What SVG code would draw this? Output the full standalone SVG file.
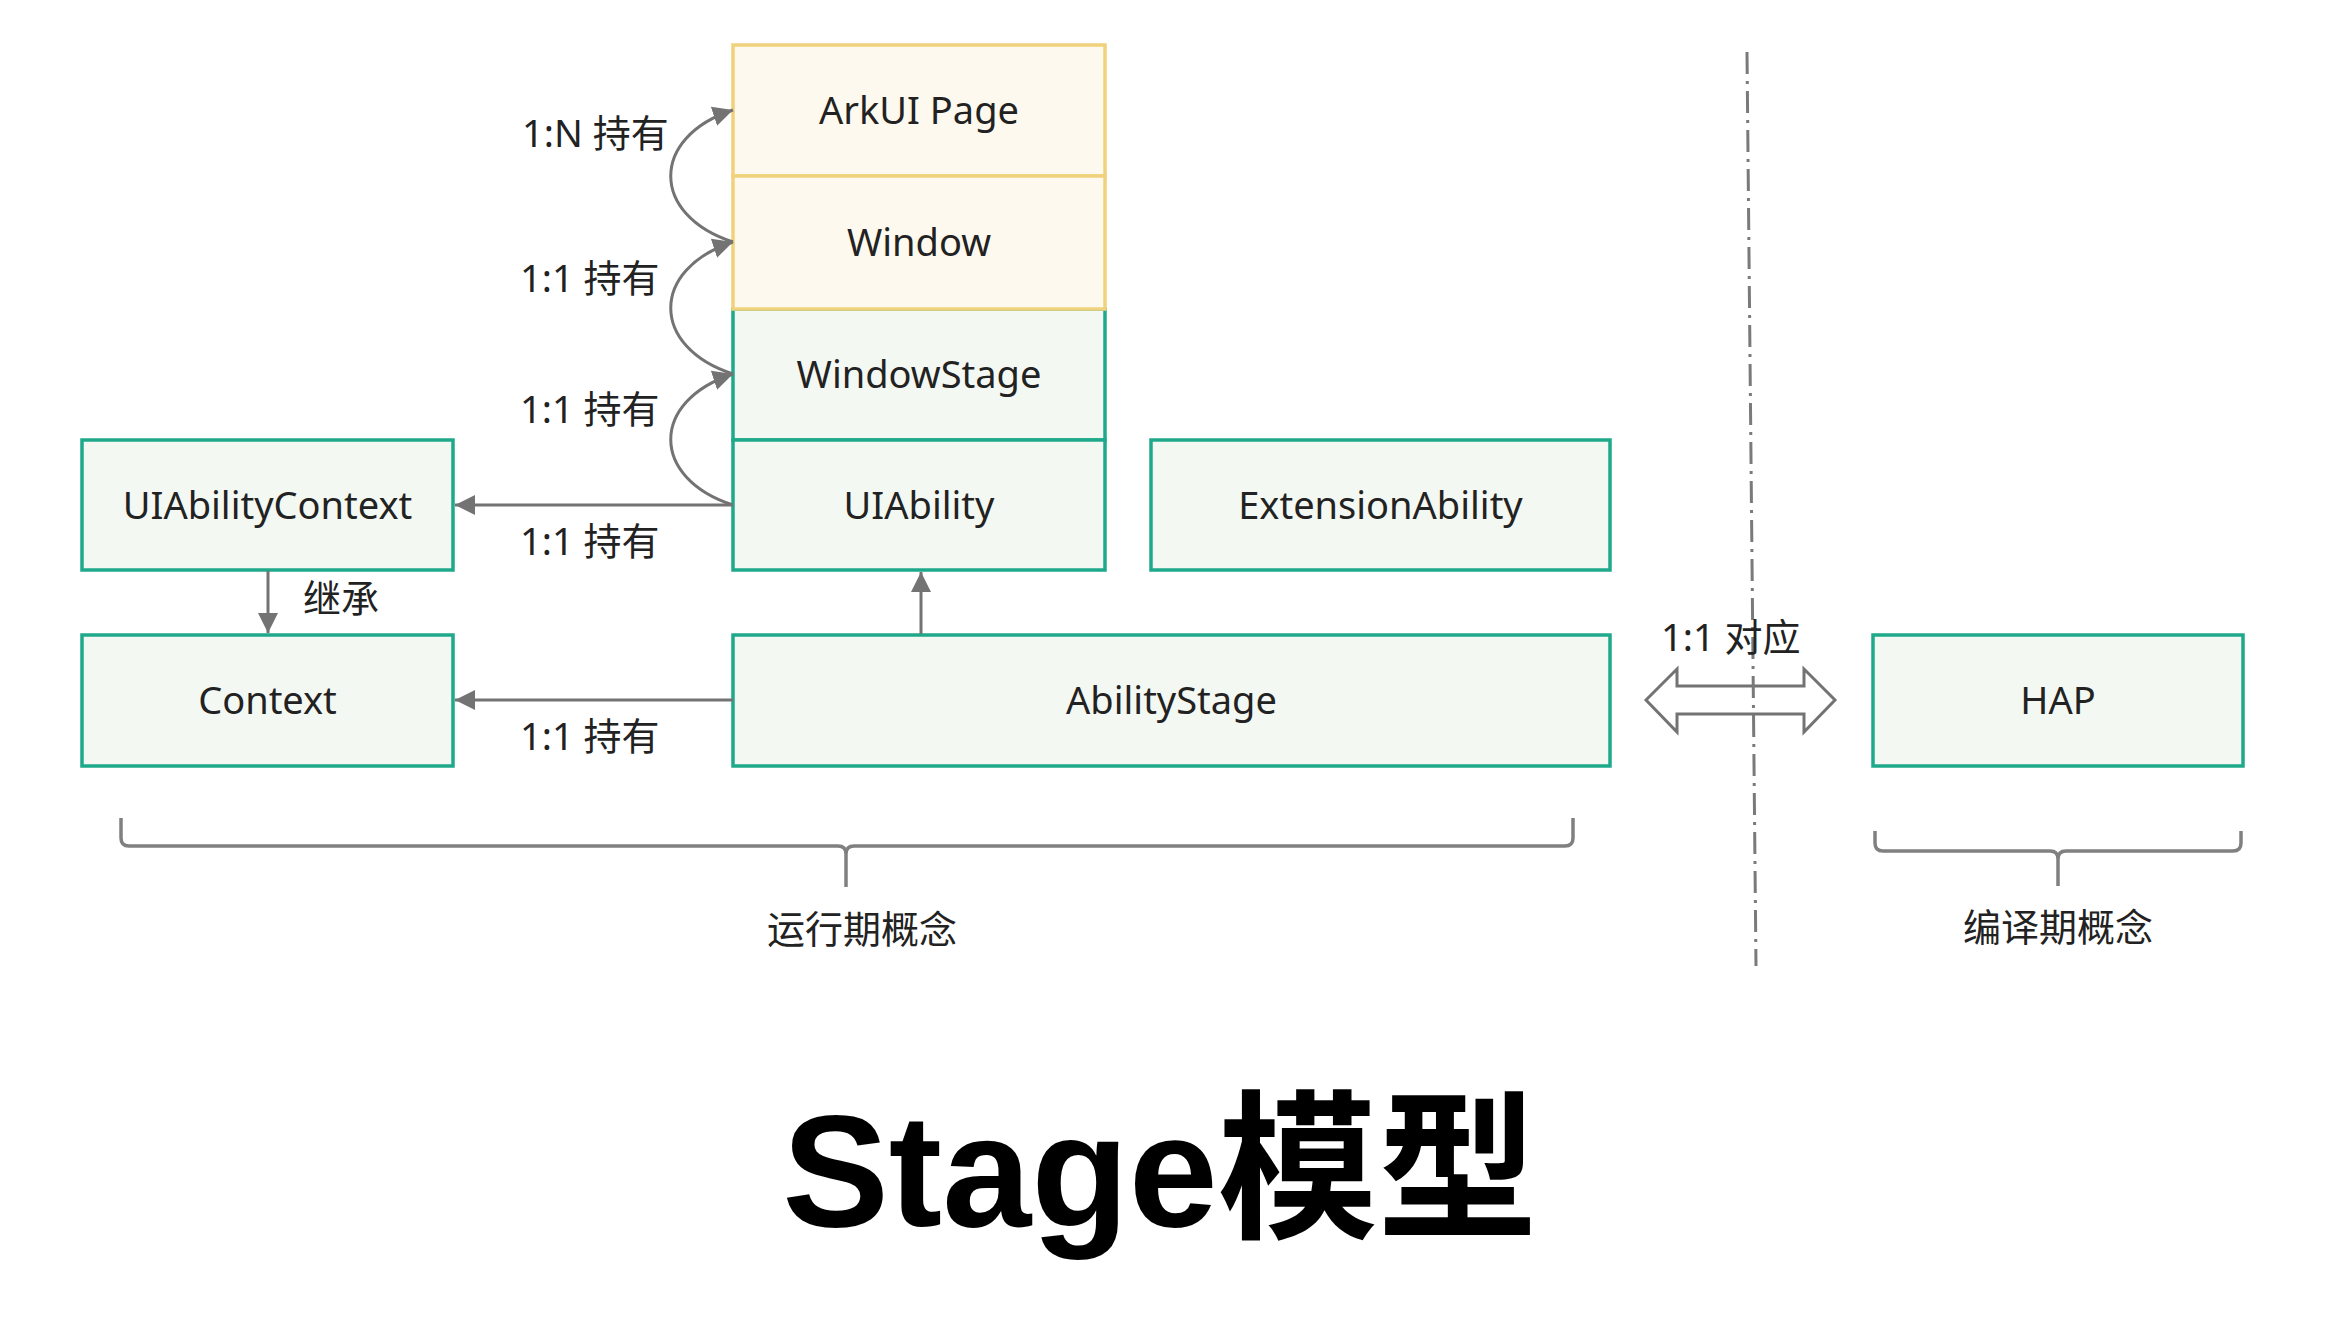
<svg xmlns="http://www.w3.org/2000/svg" width="2338" height="1324" viewBox="0 0 2338 1324">
<style>
.bg{fill:#ffffff}
.g rect{fill:#F4F8F2;stroke:#1FA98B;stroke-width:3.5}
.y rect{fill:#FEF9EE;stroke:#F1D27C;stroke-width:3.5}
.t{font-family:"Noto Sans","Noto Sans CJK SC",sans-serif;font-size:38px;fill:#222;text-anchor:middle}
.l{font-family:"Noto Sans","Noto Sans CJK SC",sans-serif;font-size:38px;fill:#222}
.c{fill:none;stroke:#737373;stroke-width:3}
.br{fill:none;stroke:#808080;stroke-width:3.5}
.title{font-family:"Liberation Sans","Noto Sans CJK SC",sans-serif;font-size:160px;font-weight:bold;fill:#000;text-anchor:middle}
</style>
<defs>
<marker id="ah" markerUnits="userSpaceOnUse" markerWidth="22" markerHeight="22" refX="20" refY="10" orient="auto" viewBox="0 0 22 20">
<path d="M0,0 L20,10 L0,20 z" fill="#737373"/>
</marker>
</defs>
<rect class="bg" width="2338" height="1324"/>

<g id="nodes">
<g id="windowstage" class="g"><rect x="733" y="309" width="372" height="131"/><text class="t" x="919" y="388">WindowStage</text></g>
<g id="uiability" class="g"><rect x="733" y="440" width="372" height="130"/><text class="t" x="919" y="519">UIAbility</text></g>
<g id="arkui" class="y"><rect x="733" y="45" width="372" height="131"/><text class="t" x="919" y="124">ArkUI Page</text></g>
<g id="window" class="y"><rect x="733" y="176" width="372" height="133"/><text class="t" x="919" y="256">Window</text></g>
<g id="uiabilitycontext" class="g"><rect x="82" y="440" width="371" height="130"/><text class="t" x="267.5" y="519">UIAbilityContext</text></g>
<g id="extensionability" class="g"><rect x="1151" y="440" width="459" height="130"/><text class="t" x="1380.5" y="519">ExtensionAbility</text></g>
<g id="context" class="g"><rect x="82" y="635" width="371" height="131"/><text class="t" x="267.5" y="714">Context</text></g>
<g id="abilitystage" class="g"><rect x="733" y="635" width="877" height="131"/><text class="t" x="1171.5" y="714">AbilityStage</text></g>
<g id="hap" class="g"><rect x="1873" y="635" width="370" height="131"/><text class="t" x="2058" y="714">HAP</text></g>
</g>

<g id="connectors">
<path class="c" d="M733,242 C650,215 650,137 733,110" marker-end="url(#ah)"/>
<path class="c" d="M733,374 C650,347 650,269 733,242" marker-end="url(#ah)"/>
<path class="c" d="M733,505 C650,478 650,401 733,374" marker-end="url(#ah)"/>
<line class="c" x1="733" y1="505" x2="455" y2="505" marker-end="url(#ah)"/>
<line class="c" x1="733" y1="700" x2="455" y2="700" marker-end="url(#ah)"/>
<line class="c" x1="268" y1="571" x2="268" y2="633" marker-end="url(#ah)"/>
<line class="c" x1="921" y1="634" x2="921" y2="572" marker-end="url(#ah)"/>
<path class="c" d="M1646,700 L1677,669 L1677,686 L1804,686 L1804,669 L1835,700 L1804,732 L1804,714 L1677,714 L1677,732 Z" fill="#fff"/>
<line x1="1747" y1="52" x2="1756" y2="966" stroke="#7a7a7a" stroke-width="3" stroke-dasharray="22 7 3 7"/>
</g>

<g id="labels">
<text class="l" x="522" y="147">1:N 持有</text>
<text class="l" x="520" y="292">1:1 持有</text>
<text class="l" x="520" y="423">1:1 持有</text>
<text class="l" x="520" y="555">1:1 持有</text>
<text class="l" x="520" y="750">1:1 持有</text>
<text class="l" x="303" y="612">继承</text>
<text class="l" x="1661" y="651">1:1 对应</text>
</g>

<g id="brackets">
<path class="br" d="M121,818 L121,838 Q121,846 129,846 L838,846 Q846,846 846,854 L846,887 M846,854 Q846,846 854,846 L1565,846 Q1573,846 1573,838 L1573,818"/>
<text class="t" x="862" y="943">运行期概念</text>
<path class="br" d="M1875,831 L1875,843 Q1875,851 1883,851 L2050,851 Q2058,851 2058,859 L2058,886 M2058,859 Q2058,851 2066,851 L2233,851 Q2241,851 2241,843 L2241,831"/>
<text class="t" x="2058" y="941">编译期概念</text>
</g>

<text class="title" x="1160" y="1226">Stage模型</text>
</svg>
